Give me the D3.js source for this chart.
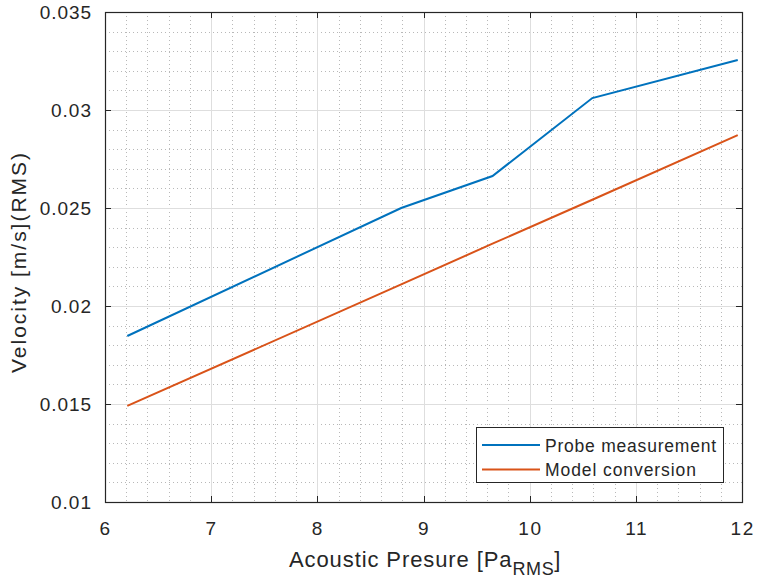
<!DOCTYPE html>
<html><head><meta charset="utf-8">
<script src="https://cdn.jsdelivr.net/npm/d3@7"></script>
<style>body{margin:0;background:#fff;} text{font-family:"Liberation Sans",Arial,sans-serif;fill:#262626;}</style>
</head><body>
<svg id="c" width="758" height="584"></svg>
<script>
const pressure = [6.21, 8.79, 9.65, 10.59, 11.96];
const probe = [0.01847, 0.0250, 0.02663, 0.03061, 0.03255];
const model = [0.0149, 0.0211, 0.02318, 0.02542, 0.02872];
const xTicks = [6,7,8,9,10,11,12];
const yTicks = [0.01,0.015,0.02,0.025,0.03,0.035];
const seriesNames = ["Probe measurement","Model conversion"];
const colors = ["#0072BD","#D95319"];

const svg = d3.select("#c");
const L=105,R=742,T=12,B=502;
const x = d3.scaleLinear().domain([6,12]).range([L,R]);
const y = d3.scaleLinear().domain([0.01,0.035]).range([B,T]);

// spread text to a target width via letter-spacing
function spread(sel, target){
  const n = sel.text().length;
  const w = sel.node().getComputedTextLength();
  sel.attr("letter-spacing", ((target - w)/Math.max(1,n-1)).toFixed(2));
}

const g = svg.append("g");
const xMinor = d3.range(6,12.0001,0.2).filter(v=>Math.abs(v-Math.round(v))>1e-6);
const yMinor = d3.range(0.01,0.03501,0.001).filter(v=>Math.abs(v*200-Math.round(v*200))>1e-6);
g.selectAll(".xm").data(xMinor).enter().append("line")
 .attr("x1",d=>Math.round(x(d))+0.5).attr("x2",d=>Math.round(x(d))+0.5).attr("y1",T).attr("y2",B)
 .attr("stroke","#b8b8b8").attr("stroke-width",1).attr("stroke-dasharray","1,3");
g.selectAll(".ym").data(yMinor).enter().append("line")
 .attr("y1",d=>Math.round(y(d))+0.5).attr("y2",d=>Math.round(y(d))+0.5).attr("x1",L).attr("x2",R)
 .attr("stroke","#b8b8b8").attr("stroke-width",1).attr("stroke-dasharray","1,3");
g.selectAll(".xg").data(xTicks).enter().append("line")
 .attr("x1",d=>Math.round(x(d))+0.5).attr("x2",d=>Math.round(x(d))+0.5).attr("y1",T).attr("y2",B)
 .attr("stroke","#dedede").attr("stroke-width",1);
g.selectAll(".yg").data(yTicks).enter().append("line")
 .attr("y1",d=>Math.round(y(d))+0.5).attr("y2",d=>Math.round(y(d))+0.5).attr("x1",L).attr("x2",R)
 .attr("stroke","#dedede").attr("stroke-width",1);

const line = d3.line().x((d,i)=>x(pressure[i])).y(d=>y(d));
[probe,model].forEach((s,k)=>{
  svg.append("path").attr("d",line(s)).attr("fill","none").attr("stroke",colors[k]).attr("stroke-width",2);
});

svg.append("rect").attr("x",L+0.5).attr("y",T+0.5).attr("width",R-L).attr("height",B-T)
 .attr("fill","none").attr("stroke","#262626").attr("stroke-width",1.2);
const tl=6;
xTicks.forEach(v=>{
  const px=Math.round(x(v))+0.5;
  svg.append("line").attr("x1",px).attr("x2",px).attr("y1",B).attr("y2",B-tl).attr("stroke","#262626");
  svg.append("line").attr("x1",px).attr("x2",px).attr("y1",T).attr("y2",T+tl).attr("stroke","#262626");
  const t = svg.append("text").attr("y",535).attr("font-size",19).text(v);
  const w = t.node().getComputedTextLength() * (String(v).length>1 ? 1.08 : 1.05);
  if(String(v).length>1) spread(t, w);
  t.attr("x", x(v) - w/2);
});
yTicks.forEach(v=>{
  const py=Math.round(y(v))+0.5;
  svg.append("line").attr("y1",py).attr("y2",py).attr("x1",L).attr("x2",L+tl).attr("stroke","#262626");
  svg.append("line").attr("y1",py).attr("y2",py).attr("x1",R).attr("x2",R-tl).attr("stroke","#262626");
  const t = svg.append("text").attr("y",y(v)+7).attr("font-size",19).text(d3.format("")(v));
  const w = t.node().getComputedTextLength()*1.08;
  spread(t, w);
  t.attr("x", 91 - w);
});

// axis labels
const xl = svg.append("text").attr("y",567).attr("font-size",22);
xl.append("tspan").text("Acoustic Presure [Pa").attr("letter-spacing",0.9);
xl.append("tspan").attr("dy",8).attr("font-size",18).attr("letter-spacing",0.6).text("RMS");
xl.append("tspan").attr("dy",-8).text("]");
const xw = xl.node().getComputedTextLength();
xl.attr("x", 423 - 268/2);

const yl = svg.append("text").attr("font-size",21).text("Velocity [m/s](RMS)");
spread(yl, 220);
yl.attr("transform","translate(26,373) rotate(-90)");

// legend
const lg = svg.append("g");
lg.append("rect").attr("x",476.5).attr("y",427.5).attr("width",247).attr("height",55)
 .attr("fill","#fff").attr("stroke","#262626").attr("stroke-width",1);
const legW = [171, 151];
seriesNames.forEach((n,k)=>{
  const yy = 445 + k*24.5;
  lg.append("line").attr("x1",482).attr("x2",540).attr("y1",yy).attr("y2",yy).attr("stroke",colors[k]).attr("stroke-width",2);
  const t = lg.append("text").attr("x",545).attr("y",yy+6.5).attr("font-size",17.5).text(n);
  spread(t, legW[k]);
});
</script>
</body></html>
